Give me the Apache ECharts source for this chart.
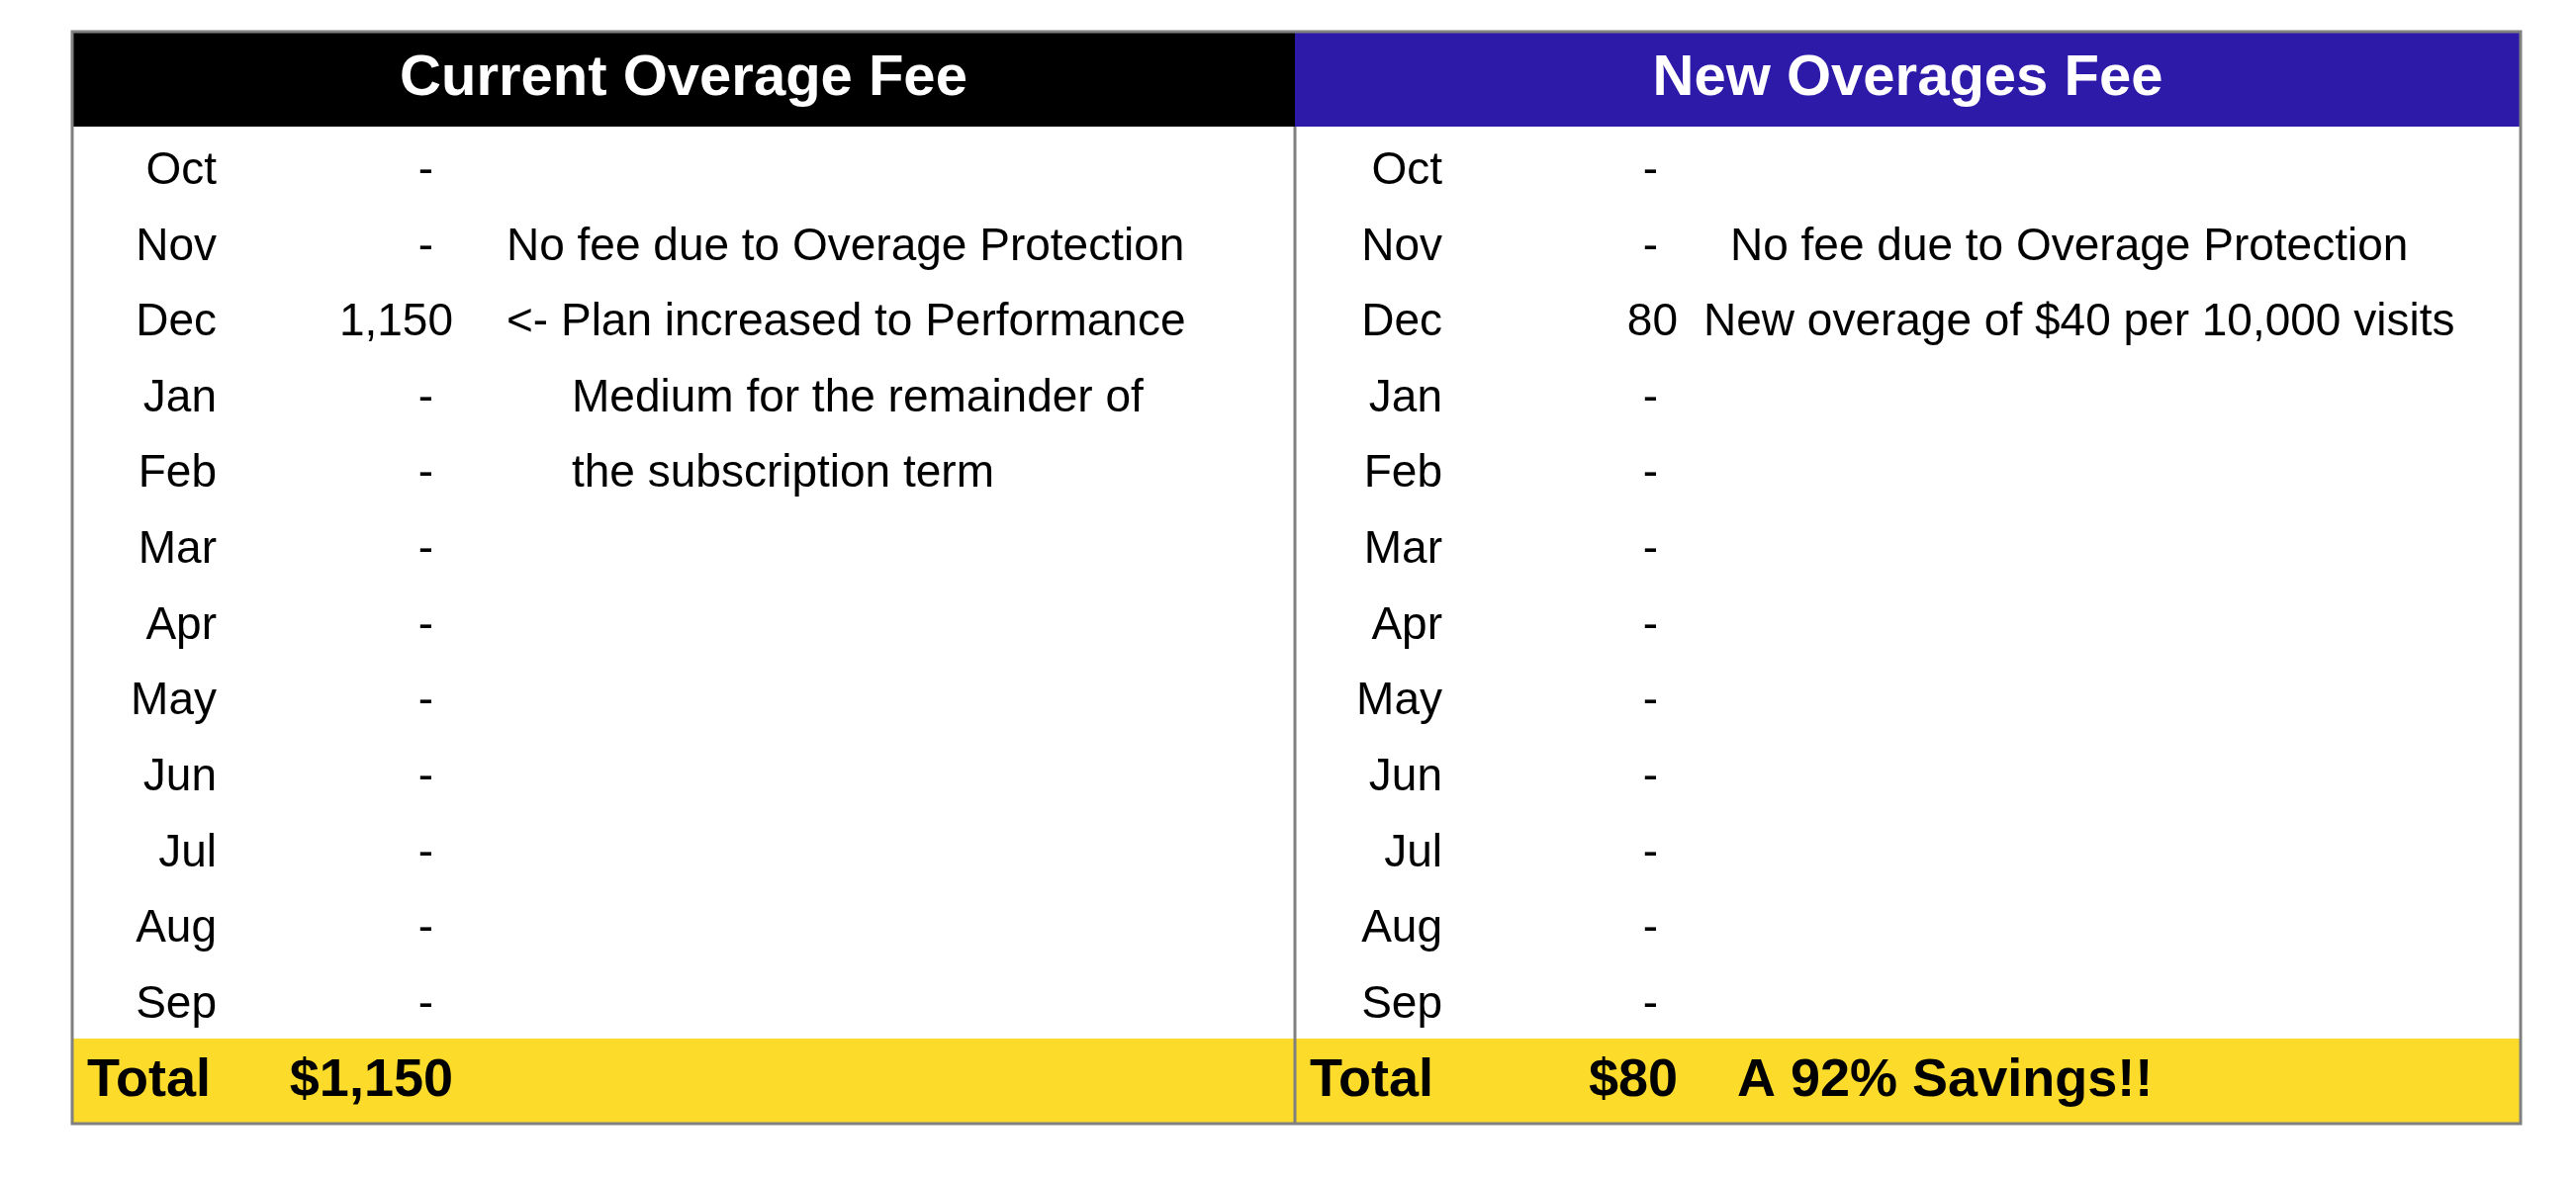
<!DOCTYPE html>
<html><head><meta charset="utf-8">
<script src="https://cdn.jsdelivr.net/npm/echarts@6/dist/echarts.min.js"></script>
<style>html,body{margin:0;padding:0;background:#fff}#c{width:2604px;height:1194px}</style>
</head><body><div id="c"></div>
<script>
const months = ['Oct','Nov','Dec','Jan','Feb','Mar','Apr','May','Jun','Jul','Aug','Sep'];
const currentFees = [0,0,1150,0,0,0,0,0,0,0,0,0];
const newFees = [0,0,80,0,0,0,0,0,0,0,0,0];
const currentNotes = [
  ['Nov','No fee due to Overage Protection',0],
  ['Dec','<- Plan increased to Performance',0],
  ['Jan','Medium for the remainder of',1],
  ['Feb','the subscription term',1]
];
const newNotes = [
  ['Nov','No fee due to Overage Protection',1],
  ['Dec','New overage of $40 per 10,000 visits',0]
];
const headers = ['Current Overage Fee','New Overages Fee'];
const totalLabel = 'Total';
const savingsText = 'A 92% Savings!!';

const rows = months.concat([totalLabel]);
const FONT = '"Liberation Sans", Arial, sans-serif';
const FS = 46;
const L = {left:73, mid:1309, right:2548, hTop:32, hBot:128, yTop:1050, yBot:1136,
  monthL:219, valL:458, noteL:512, noteLi:578,
  monthR:1458, valR:1696, noteR:1722, noteRi:1749, totL:88, totR:1324, savX:1756};

const fmt = v => v === 0 ? '-' : v.toLocaleString('en-US');
const sum = a => a.reduce((s,v)=>s+v,0);

function textSeries(data, align, bold, size){
  return {
    type:'scatter', symbolSize:0, silent:true, data:data,
    itemStyle:{opacity:1},
    label:{show:true, position:'inside', align:align, verticalAlign:'middle',
      fontFamily:FONT, fontSize:size||FS, color:'#000', textBorderWidth:0, opacity:1,
      fontWeight:bold?'bold':'normal',
      formatter:p=>p.value[2]}
  };
}
const monthData = x => months.map(mm=>[x, mm, mm]);
const valData = (arr,x) => arr.map((v,i)=>({value:[x, months[i], fmt(v)], label: v===0?{padding:[0,20,0,0]}:{}}));

const chart = echarts.init(document.getElementById('c'));
chart.setOption({
  animation:false,
  grid:{left:0,right:0,top:135,bottom:1194-1131},
  xAxis:{type:'value',min:0,max:2604,show:false},
  yAxis:{type:'category',data:rows,inverse:true,show:false},
  graphic:[
    {type:'rect',shape:{x:L.left,y:L.hTop,width:L.mid-L.left,height:L.hBot-L.hTop},style:{fill:'#000'}},
    {type:'rect',shape:{x:L.mid,y:L.hTop,width:L.right-L.mid,height:L.hBot-L.hTop},style:{fill:'#2E1AA8'}},
    {type:'rect',shape:{x:L.left,y:L.yTop,width:L.right-L.left,height:L.yBot-L.yTop},style:{fill:'#FDDB2B'}},
    {type:'rect',shape:{x:L.left,y:L.hTop,width:L.right-L.left,height:L.yBot-L.hTop},style:{fill:null,stroke:'#808080',lineWidth:3}},
    {type:'line',shape:{x1:L.mid,y1:L.hBot,x2:L.mid,y2:L.yBot},style:{stroke:'#808080',lineWidth:3}},
    {type:'text',x:(L.left+L.mid)/2,y:(L.hTop+L.hBot)/2,style:{text:headers[0],fill:'#fff',font:'bold 58px '+FONT,align:'center',verticalAlign:'middle'}},
    {type:'text',x:(L.mid+L.right)/2,y:(L.hTop+L.hBot)/2,style:{text:headers[1],fill:'#fff',font:'bold 58px '+FONT,align:'center',verticalAlign:'middle'}}
  ],
  series:[
    textSeries(monthData(L.monthL),'right',false),
    textSeries(monthData(L.monthR),'right',false),
    textSeries(valData(currentFees,L.valL),'right',false),
    textSeries(valData(newFees,L.valR),'right',false),
    textSeries(currentNotes.map(n=>[n[2]?L.noteLi:L.noteL,n[0],n[1]]),'left',false),
    textSeries(newNotes.map(n=>[n[2]?L.noteRi:L.noteR,n[0],n[1]]),'left',false),
    textSeries([[L.totL,totalLabel,totalLabel],[L.totR,totalLabel,totalLabel],[L.savX,totalLabel,savingsText]],'left',true,54),
    textSeries([[L.valL,totalLabel,'$'+sum(currentFees).toLocaleString('en-US')],[L.valR,totalLabel,'$'+sum(newFees).toLocaleString('en-US')]],'right',true,54)
  ]
});
</script></body></html>
